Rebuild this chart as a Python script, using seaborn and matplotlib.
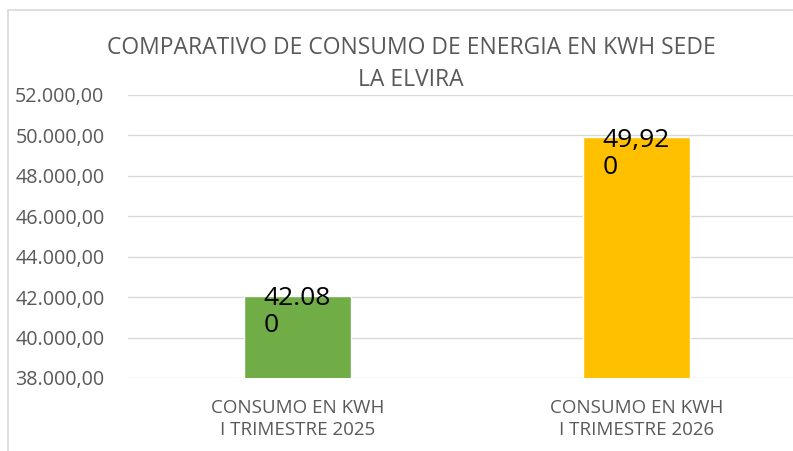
import numpy as np
import pandas as pd
import matplotlib
matplotlib.use("Agg")
import matplotlib.pyplot as plt
import seaborn as sns
from matplotlib.patches import Rectangle
from matplotlib.ticker import FuncFormatter

# =========================
# DATA
# =========================
categorias = ["CONSUMO EN KWH\nI TRIMESTRE 2025", "CONSUMO EN KWH\nI TRIMESTRE 2026"]
consumo = [42080, 49920]
etiquetas = ["42.08\n0", "49,92\n0"]
colores = ["#70AD47", "#FFC000"]
titulo = "COMPARATIVO DE CONSUMO DE ENERGIA EN KWH SEDE\nLA ELVIRA"

# =========================
# STYLE
# =========================
sns.set_style("white")
plt.rcParams["font.family"] = ["Open Sans", "DejaVu Sans"]

gris = "#595959"

fig = plt.figure(figsize=(7.93, 4.51), dpi=100)
ax = fig.add_axes([128 / 793, 1 - 378 / 451, 678 / 793, (378 - 95) / 451])

df = pd.DataFrame({"cat": categorias, "val": consumo})
sns.barplot(data=df, x="cat", y="val", hue="cat", palette=colores,
            width=0.316, legend=False, ax=ax, saturation=1)

ax.set_ylim(38000, 52000)
ax.set_yticks(np.arange(38000, 52001, 2000))
ax.yaxis.set_major_formatter(FuncFormatter(
    lambda v, p: f"{v:,.2f}".replace(",", "X").replace(".", ",").replace("X", ".")))
ax.set_xlim(-0.5, 1.5)

ax.grid(axis="y", color="#D9D9D9", linewidth=1.0)
ax.set_axisbelow(True)
for s in ax.spines.values():
    s.set_visible(False)

ax.tick_params(axis="y", length=0, pad=17, labelsize=14.2, labelcolor=gris)
ax.tick_params(axis="x", length=0, pad=15, labelsize=13.5, labelcolor=gris)
for lbl in ax.get_xticklabels():
    lbl.set_linespacing(1.3)
ax.set_xlabel("")
ax.set_ylabel("")

# =========================
# LABELS
# =========================
for i, (v, t) in enumerate(zip(consumo, etiquetas)):
    ax.annotate(t, xy=(i, v), xytext=(0, -12), textcoords="offset points",
                ha="center", va="center", multialignment="left",
                fontsize=19, color="black", linespacing=1.12)

fig.text(411 / 793, 1 - 64 / 451, titulo, ha="center", va="center",
         fontsize=16.5, color=gris, linespacing=1.4)

# chart border
fig.patches.append(Rectangle((8 / 793, -0.2), 1.5, 0.2 + 1 - 10 / 451,
                             transform=fig.transFigure, fill=False,
                             edgecolor="#D9D9D9", linewidth=1.2))

plt.savefig("out.png", dpi=100)
plt.close()
